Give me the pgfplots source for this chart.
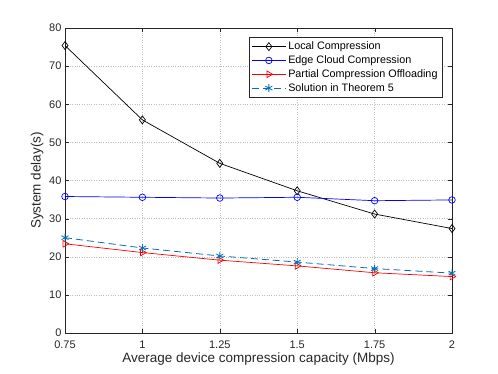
\documentclass[border=0pt]{standalone}
\usepackage{fontspec}
\setmainfont{Liberation Sans}
\usepackage{pgfplots}
\pgfplotsset{compat=1.18}
\definecolor{mblue}{rgb}{0,0.447,0.741}
\definecolor{axgray}{rgb}{0.15,0.15,0.15}
\begin{document}
\begin{tikzpicture}
\useasboundingbox (-65pt,-41pt) rectangle (433pt,333pt);
\begin{axis}[
  at={(0,0)}, anchor=south west,
  scale only axis, width=387pt, height=305pt,
  xmin=0.75, xmax=2, ymin=0, ymax=80,
  xtick={0.75,1,1.25,1.5,1.75,2},
  xticklabels={0.75,1,1.25,1.5,1.75,2},
  ytick={0,10,...,80},
  tick align=inside, tick pos=both,
  axis line style={axgray, line width=0.6pt},
  major tick style={axgray},
  major tick length=4pt,
  grid=major, grid style={dotted, gray!50},
  ticklabel style={font=\fontsize{11}{13}\selectfont, text=axgray},
  xticklabel style={yshift=-4pt},
  /pgf/number format/assume math mode=true,
  xlabel={Average device compression capacity (Mbps)},
  ylabel={System delay(s)},
  label style={font=\fontsize{13.5}{15}\selectfont, text=axgray},
  xlabel style={yshift=2pt},
  ylabel style={yshift=-1pt},
  legend style={at={(0.975,0.97)}, anchor=north east, font=\fontsize{10.8}{13}\selectfont,
    draw=axgray, line width=0.6pt, row sep=0.5pt, inner sep=2.5pt},
  legend cell align=left,
  legend image code/.code={\draw[mark repeat=2,mark phase=2,#1] plot coordinates {(0pt,0pt) (17pt,0pt) (34pt,0pt)};},
]
\addplot[black, line width=0.7pt, mark=diamond, mark size=4pt, mark options={solid, line width=0.7pt}]
  coordinates {(0.75,75.4) (1,55.9) (1.25,44.5) (1.5,37.3) (1.75,31.2) (2,27.4)};
\addlegendentry{Local Compression}
\addplot[blue, line width=0.7pt, mark=o, mark size=3.3pt, mark options={solid, line width=0.7pt}]
  coordinates {(0.75,35.8) (1,35.6) (1.25,35.4) (1.5,35.6) (1.75,34.7) (2,34.9)};
\addlegendentry{Edge Cloud Compression}
\addplot[red, line width=0.7pt, mark=triangle, mark size=3.8pt, mark options={solid, rotate=-90, line width=0.7pt}]
  coordinates {(0.75,23.4) (1,21.1) (1.25,19.1) (1.5,17.6) (1.75,15.8) (2,14.8)};
\addlegendentry{Partial Compression Offloading}
\addplot[mblue, line width=0.8pt, dash pattern=on 7pt off 4pt, mark=asterisk, mark size=4pt, mark options={solid, line width=0.8pt}]
  coordinates {(0.75,25.0) (1,22.3) (1.25,20.2) (1.5,18.6) (1.75,16.9) (2,15.7)};
\addlegendentry{Solution in Theorem 5}
\end{axis}
\end{tikzpicture}
\end{document}
